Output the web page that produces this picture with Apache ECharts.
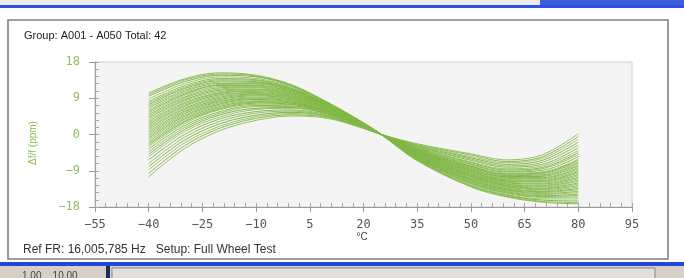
<!DOCTYPE html>
<html>
<head>
<meta charset="utf-8">
<script src="https://cdn.jsdelivr.net/npm/echarts@6/dist/echarts.min.js"></script>
<style>
html,body{margin:0;padding:0;background:#ffffff;}
#chart{width:684px;height:278px;}
</style>
</head>
<body>
<div id="chart"></div>
<script>
// Temperatures (°C) at which each curve is sampled
const temps = [-40, -30, -20, -10, 0, 10, 20, 25, 35, 50, 60, 70, 80];

// Frequency deviation curves (ppm), 42 units
const g01 = [-10.5, -3.5, 1.0, 3.5, 4.6, 4.0, 1.5, 0, -2.3, -4.8, -6.3, -5.0, 0.2];
const g02 = [-9.7, -2.8, 1.6, 4.0, 4.9, 4.2, 1.6, 0, -2.5, -5.1, -6.7, -5.5, -0.5];
const g03 = [-8.8, -2.1, 2.1, 4.4, 5.2, 4.3, 1.6, 0, -2.6, -5.5, -7.0, -5.9, -1.2];
const g04 = [-8.0, -1.4, 2.7, 4.8, 5.5, 4.5, 1.7, 0, -2.8, -5.8, -7.4, -6.4, -1.9];
const g05 = [-7.2, -0.7, 3.3, 5.3, 5.8, 4.6, 1.7, 0, -3.0, -6.1, -7.8, -6.9, -2.6];
const g06 = [-6.3, 0.0, 3.9, 5.7, 6.1, 4.8, 1.8, 0, -3.1, -6.4, -8.1, -7.4, -3.3];
const g07 = [-5.5, 0.7, 4.4, 6.2, 6.5, 5.0, 1.8, 0, -3.3, -6.8, -8.5, -7.8, -4.0];
const g08 = [-4.9, 1.2, 4.9, 6.5, 6.7, 5.1, 1.9, 0, -3.4, -7.0, -8.8, -8.2, -4.5];
const g09 = [-4.3, 1.7, 5.3, 6.9, 6.9, 5.2, 1.9, 0, -3.6, -7.3, -9.1, -8.5, -5.0];
const g10 = [-3.6, 2.2, 5.7, 7.2, 7.1, 5.3, 2.0, 0, -3.7, -7.5, -9.3, -8.9, -5.5];
const g11 = [-3.0, 2.7, 6.2, 7.5, 7.4, 5.4, 2.0, 0, -3.8, -7.8, -9.6, -9.3, -6.1];
const g12 = [-2.6, 3.1, 6.4, 7.8, 7.5, 5.5, 2.0, 0, -3.9, -7.9, -9.8, -9.5, -6.4];
const g13 = [-2.2, 3.4, 6.7, 8.0, 7.7, 5.6, 2.1, 0, -4.0, -8.1, -10.0, -9.7, -6.8];
const g14 = [-1.8, 3.8, 7.0, 8.2, 7.8, 5.7, 2.1, 0, -4.1, -8.2, -10.2, -10.0, -7.1];
const g15 = [-1.3, 4.1, 7.3, 8.4, 8.0, 5.8, 2.1, 0, -4.2, -8.4, -10.4, -10.2, -7.5];
const g16 = [-0.9, 4.5, 7.6, 8.7, 8.1, 5.8, 2.1, 0, -4.2, -8.6, -10.5, -10.4, -7.8];
const g17 = [-0.5, 4.8, 7.9, 8.9, 8.3, 5.9, 2.2, 0, -4.3, -8.7, -10.7, -10.7, -8.2];
const g18 = [-0.1, 5.2, 8.2, 9.1, 8.5, 6.0, 2.2, 0, -4.4, -8.9, -10.9, -10.9, -8.5];
const g19 = [0.3, 5.5, 8.4, 9.3, 8.6, 6.1, 2.2, 0, -4.5, -9.1, -11.1, -11.1, -8.9];
const g20 = [0.7, 5.8, 8.7, 9.6, 8.8, 6.2, 2.3, 0, -4.6, -9.2, -11.3, -11.4, -9.2];
const g21 = [1.2, 6.2, 9.0, 9.8, 8.9, 6.2, 2.3, 0, -4.7, -9.4, -11.5, -11.6, -9.5];
const g22 = [1.6, 6.5, 9.3, 10.0, 9.1, 6.3, 2.3, 0, -4.7, -9.6, -11.6, -11.8, -9.9];
const g23 = [2.0, 6.9, 9.6, 10.2, 9.2, 6.4, 2.3, 0, -4.8, -9.7, -11.8, -12.1, -10.2];
const g24 = [2.4, 7.2, 9.9, 10.4, 9.4, 6.5, 2.4, 0, -4.9, -9.9, -12.0, -12.3, -10.6];
const g25 = [2.8, 7.6, 10.2, 10.7, 9.5, 6.6, 2.4, 0, -5.0, -10.1, -12.2, -12.6, -10.9];
const g26 = [3.2, 7.9, 10.4, 10.9, 9.7, 6.6, 2.4, 0, -5.1, -10.2, -12.4, -12.8, -11.3];
const g27 = [3.6, 8.3, 10.7, 11.1, 9.8, 6.7, 2.5, 0, -5.2, -10.4, -12.6, -13.0, -11.6];
const g28 = [4.1, 8.6, 11.0, 11.3, 10.0, 6.8, 2.5, 0, -5.2, -10.5, -12.7, -13.3, -12.0];
const g29 = [4.5, 9.0, 11.3, 11.6, 10.1, 6.9, 2.5, 0, -5.3, -10.7, -12.9, -13.5, -12.3];
const g30 = [4.9, 9.3, 11.6, 11.8, 10.3, 7.0, 2.5, 0, -5.4, -10.9, -13.1, -13.7, -12.7];
const g31 = [5.3, 9.7, 11.9, 12.0, 10.5, 7.0, 2.6, 0, -5.5, -11.0, -13.3, -14.0, -13.0];
const g32 = [5.7, 10.0, 12.2, 12.2, 10.6, 7.1, 2.6, 0, -5.6, -11.2, -13.5, -14.2, -13.4];
const g33 = [6.1, 10.3, 12.4, 12.5, 10.8, 7.2, 2.6, 0, -5.7, -11.4, -13.7, -14.4, -13.7];
const g34 = [6.6, 10.7, 12.7, 12.7, 10.9, 7.3, 2.7, 0, -5.7, -11.5, -13.8, -14.7, -14.1];
const g35 = [7.0, 11.0, 13.0, 12.9, 11.1, 7.4, 2.7, 0, -5.8, -11.7, -14.0, -14.9, -14.4];
const g36 = [7.4, 11.4, 13.3, 13.1, 11.2, 7.4, 2.7, 0, -5.9, -11.9, -14.2, -15.2, -14.8];
const g37 = [7.8, 11.7, 13.6, 13.4, 11.4, 7.5, 2.7, 0, -6.0, -12.0, -14.4, -15.4, -15.1];
const g38 = [8.2, 12.1, 13.9, 13.6, 11.5, 7.6, 2.8, 0, -6.1, -12.2, -14.6, -15.6, -15.5];
const g39 = [8.8, 12.6, 14.3, 13.9, 11.8, 7.7, 2.8, 0, -6.2, -12.4, -14.9, -16.0, -16.0];
const g40 = [9.5, 13.1, 14.7, 14.3, 12.0, 7.8, 2.8, 0, -6.3, -12.7, -15.1, -16.3, -16.5];
const g41 = [9.9, 13.5, 15.0, 14.5, 12.2, 7.9, 2.9, 0, -6.4, -12.8, -15.3, -16.6, -16.9];
const g42 = [10.3, 13.8, 15.3, 14.7, 12.3, 8.0, 2.9, 0, -6.5, -13.0, -15.5, -16.8, -17.2];

const curves = [g01,g02,g03,g04,g05,g06,g07,g08,g09,g10,g11,g12,g13,g14,g15,g16,g17,g18,g19,g20,g21,
                g22,g23,g24,g25,g26,g27,g28,g29,g30,g31,g32,g33,g34,g35,g36,g37,g38,g39,g40,g41,g42];

// Axis ticks
const xTicks = [-55, -40, -25, -10, 5, 20, 35, 50, 65, 80, 95];
const xMinorTicks = [-55,-52,-49,-46,-43,-40,-37,-34,-31,-28,-25,-22,-19,-16,-13,-10,-7,-4,-1,2,5,8,11,14,17,20,23,26,29,32,35,38,41,44,47,50,53,56,59,62,65,68,71,74,77,80,83,86,89,92,95];
const yTicks = [-18, -9, 0, 9, 18];
const yMinorTicks = [-18,-16.2,-14.4,-12.6,-10.8,-9,-7.2,-5.4,-3.6,-1.8,0,1.8,3.6,5.4,7.2,9,10.8,12.6,14.4,16.2,18];

// Texts
const titleText = 'Group: A001 - A050 Total: 42';
const footerText = 'Ref FR: 16,005,785 Hz   Setup: Full Wheel Test';
const xName = '°C';
const yName = 'Δf/f (ppm)';

const chart = echarts.init(document.getElementById('chart'), null, {renderer: 'canvas'});

const lineColors = ['#86bc4c', '#7bb33f', '#90c25a', '#74ac36'];
const series = curves.map((c, k) => ({
  type: 'line',
  xAxisIndex: 0,
  yAxisIndex: 0,
  data: temps.map((t, i) => [t, c[i]]),
  showSymbol: false,
  smooth: 0.35,
  silent: true,
  lineStyle: {width: 1, color: lineColors[k % lineColors.length], opacity: 0.9},
  z: 3
}));

const minusFmt = v => String(v).replace('-', '−');

const option = {
  animation: false,
  backgroundColor: '#ffffff',
  grid: {
    left: 95, right: 52, top: 62, bottom: 71,
    show: true, backgroundColor: '#f4f4f4', borderColor: '#d0d0d0', borderWidth: 1
  },
  xAxis: [{
    type: 'value', min: -55, max: 95, position: 'bottom',
    splitLine: {show: false},
    axisLine: {show: true, onZero: false, lineStyle: {color: '#9a9a9a', width: 1}},
    axisTick: {show: true, length: 5, inside: false, customValues: xTicks, lineStyle: {color: '#9a9a9a'}},
    axisLabel: {show: true, customValues: xTicks, margin: 12, color: '#555555',
      fontFamily: 'DejaVu Sans Mono', fontSize: 12, formatter: minusFmt}
  }, {
    type: 'value', min: -55, max: 95, position: 'bottom',
    splitLine: {show: false},
    axisLine: {show: false, onZero: false},
    axisTick: {show: true, length: 4, inside: true, customValues: xMinorTicks, lineStyle: {color: '#a8a8a8'}},
    axisLabel: {show: false}
  }],
  yAxis: [{
    type: 'value', min: -18, max: 18, interval: 9, position: 'left',
    splitLine: {show: false},
    axisLine: {show: true, onZero: false, lineStyle: {color: '#9a9a9a', width: 1}},
    axisTick: {show: true, length: 6, inside: false, customValues: yTicks, lineStyle: {color: '#9a9a9a'}},
    axisLabel: {show: true, customValues: yTicks, margin: 15, color: '#93bd62',
      fontFamily: 'DejaVu Sans Mono', fontSize: 12, formatter: minusFmt}
  }, {
    type: 'value', min: -18, max: 18, position: 'left',
    splitLine: {show: false},
    axisLine: {show: false, onZero: false},
    axisTick: {show: true, length: 4, inside: true, customValues: yMinorTicks, lineStyle: {color: '#a8a8a8'}},
    axisLabel: {show: false}
  }],
  series: series,
  graphic: [
    // top toolbar strip
    {type: 'rect', shape: {x: 0, y: 0, width: 684, height: 5}, style: {fill: '#ececec'}, silent: true},
    {type: 'rect', shape: {x: 0, y: 5, width: 684, height: 3}, style: {fill: '#2b52e2'}, silent: true},
    {type: 'rect', shape: {x: 540, y: 0, width: 144, height: 5}, style: {fill: '#3a5fd8'}, silent: true},
    // panel frame
    {type: 'rect', shape: {x: 8, y: 20, width: 660, height: 239},
      style: {fill: 'none', stroke: '#808080', lineWidth: 1.6}, silent: true},
    // bottom status strip
    {type: 'rect', shape: {x: 0, y: 262, width: 684, height: 4}, style: {fill: '#2448d6'}, silent: true},
    {type: 'rect', shape: {x: 0, y: 266, width: 684, height: 12}, style: {fill: '#d4d0c8'}, silent: true},
    {type: 'rect', shape: {x: 106, y: 266, width: 4, height: 12}, style: {fill: '#1e2a5a'}, silent: true},
    {type: 'rect', shape: {x: 112, y: 268, width: 543, height: 12},
      style: {fill: '#e2e0dc', stroke: '#8a8a8a', lineWidth: 1}, silent: true},
    {type: 'text', x: 22, y: 276, style: {text: '1.00    10.00', fill: '#444', font: '10px "Liberation Sans"', verticalAlign: 'middle'}, silent: true},
    // title
    {type: 'text', x: 24, y: 36, style: {text: titleText, fill: '#222222',
      font: '11px "Liberation Sans"', verticalAlign: 'middle'}, silent: true},
    // footer
    {type: 'text', x: 23, y: 250, style: {text: footerText, fill: '#333333',
      font: '12px "Liberation Sans"', verticalAlign: 'middle'}, silent: true},
    // x axis name
    {type: 'text', x: 362, y: 237, style: {text: xName, fill: '#444444',
      font: '10px "Liberation Sans"', align: 'center', verticalAlign: 'middle'}, silent: true},
    // y axis name
    {type: 'text', x: 33, y: 143, rotation: Math.PI / 2, style: {text: yName, fill: '#8cbb55',
      font: '10px "Liberation Sans"', align: 'center', verticalAlign: 'middle'}, silent: true}
  ]
};

chart.setOption(option);
</script>
</body>
</html>
